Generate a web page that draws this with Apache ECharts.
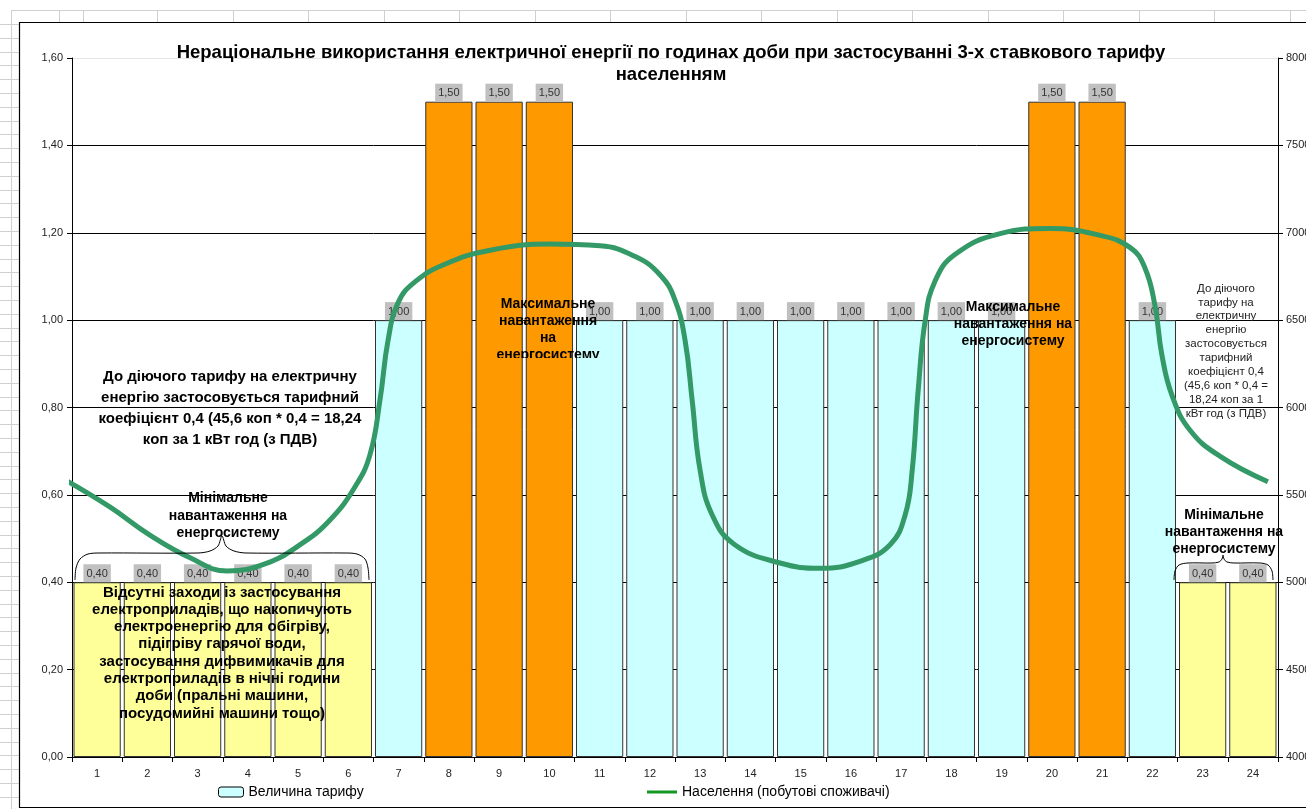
<!DOCTYPE html>
<html>
<head>
<meta charset="utf-8">
<script src="https://cdn.jsdelivr.net/npm/echarts@6/dist/echarts.min.js"></script>
<style>
  html, body { margin: 0; padding: 0; background: #fff; }
  #chart { width: 1306px; height: 809px; }
</style>
</head>
<body>
<div id="chart"></div>
<script>
// Hours of the day (category axis)
const hours = ['1','2','3','4','5','6','7','8','9','10','11','12','13','14','15','16','17','18','19','20','21','22','23','24'];

// Tariff coefficient for each hour
const tariff = [0.4, 0.4, 0.4, 0.4, 0.4, 0.4, 1.0, 1.5, 1.5, 1.5, 1.0, 1.0,
                1.0, 1.0, 1.0, 1.0, 1.0, 1.0, 1.0, 1.5, 1.5, 1.0, 0.4, 0.4];

// Household load curve: time of day (hours) and load (right axis)
const loadHours = [-0.10, 0.76, 1.55, 2.35, 3.09, 3.84, 4.54, 5.13, 5.63, 5.93, 6.13, 6.29,
                   6.49, 6.83, 7.42, 8.32, 9.51, 10.51, 11.20, 11.70, 12.00, 12.20, 12.34, 12.50,
                   12.74, 13.19, 14.09, 14.89, 15.68, 16.28, 16.58, 16.72, 16.84, 16.98, 17.17, 17.57,
                   18.47, 19.46, 20.46, 21.06, 21.35, 21.55, 21.69, 21.89, 22.25, 22.85, 23.80];
const loadValues = [5580, 5430, 5270, 5140, 5065, 5105, 5215, 5355, 5545, 5730, 6045, 6385,
                    6600, 6720, 6820, 6900, 6935, 6925, 6865, 6760, 6615, 6385, 6045, 5640,
                    5385, 5215, 5110, 5080, 5120, 5215, 5385, 5640, 6100, 6500, 6720, 6875,
                    6995, 7025, 6985, 6915, 6800, 6585, 6300, 6070, 5870, 5720, 5575];

// Axis ranges
const leftAxis = { min: 0, max: 1.6, step: 0.2 };
const rightAxis = { min: 4000, max: 8000, step: 500 };

const titleText = 'Нераціональне використання електричної енергії по годинах доби при застосуванні 3-х ставкового тарифу\nнаселенням';
const barName = 'Величина тарифу';
const lineName = 'Населення (побутові споживачі)';

const FONT = '"Liberation Sans", Arial, sans-serif';
const zoneColor = v => v >= 1.5 ? '#FF9900' : (v >= 1.0 ? '#CCFFFF' : '#FFFF99');
const comma = v => v.toFixed(2).replace('.', ',');

// Spreadsheet cells visible around the chart object
const sheetLines = [];
const cellStroke = { stroke: '#d0d0d0', lineWidth: 1 };
sheetLines.push({ type: 'line', shape: { x1: 11, y1: 10.5, x2: 1306, y2: 10.5 }, style: cellStroke, silent: true });
sheetLines.push({ type: 'line', shape: { x1: 11.5, y1: 10, x2: 11.5, y2: 809 }, style: cellStroke, silent: true });
for (let y = 24; y < 809; y += 13.8) {
  sheetLines.push({ type: 'line', shape: { x1: 0, y1: Math.round(y) + 0.5, x2: 19, y2: Math.round(y) + 0.5 }, style: cellStroke, silent: true });
}
[59.5, 83.5].concat(Array.from({ length: 16 }, (_, k) => Math.round(157 + 75.5 * k) + 0.5)).forEach(x => {
  sheetLines.push({ type: 'line', shape: { x1: x, y1: 10, x2: x, y2: 22 }, style: cellStroke, silent: true });
});

const boldText = (text, x, y, size, lh) => ({
  type: 'text', x, y, z: 100, silent: true,
  style: { text, font: 'bold ' + size + 'px ' + FONT, fill: '#000', align: 'center', verticalAlign: 'middle', lineHeight: lh }
});

const annotations = [
  boldText('До діючого тарифу на електричну\nенергію застосовується тарифний\nкоефіцієнт 0,4 (45,6 коп * 0,4 = 18,24\nкоп за 1 кВт год (з ПДВ)', 230, 408, 15, 21),
  boldText('Мінімальне\nнавантаження на\nенергосистему', 228, 516, 14, 17.5),
  boldText('Відсутні заходи із застосування\nелектроприладів, що накопичують\nелектроенергію для обігріву,\nпідігріву гарячої води,\nзастосування дифвимикачів для\nелектроприладів в нічні години\nдоби (пральні машини,\nпосудомийні машини тощо)', 222, 653, 15, 17.3),
  boldText('Максимальне\nнавантаження на\nенергосистему', 1013, 324, 14, 17),
  boldText('Мінімальне\nнавантаження на\nенергосистему', 1224, 532, 14, 17),
  {
    type: 'text', x: 1226, y: 351, z: 100, silent: true,
    style: {
      text: 'До діючого\nтарифу на\nелектричну\nенергію\nзастосовується\nтарифний\nкоефіцієнт 0,4\n(45,6 коп * 0,4 =\n18,24 коп за 1\nкВт год (з ПДВ)',
      font: '11.5px ' + FONT, fill: '#222', align: 'center', verticalAlign: 'middle', lineHeight: 13.9
    }
  },
  // braces over the night-rate hours
  {
    type: 'polyline', z: 100, silent: true,
    shape: { points: [[75,580],[76,568],[80,559],[88,554],[100,553],[198,553],[210,551],[218,546],[222,536],[226,546],[234,551],[246,553],[345,553],[357,554],[365,559],[368,568],[369,580]], smooth: 0.3 },
    style: { stroke: '#000', lineWidth: 1, fill: null }
  },
  {
    type: 'polyline', z: 100, silent: true,
    shape: { points: [[1174,580],[1175,571],[1179,565],[1188,563],[1212,563],[1219,562],[1222,559],[1223,555],[1224,559],[1227,562],[1234,563],[1260,563],[1268,565],[1272,571],[1273,580]], smooth: 0.3 },
    style: { stroke: '#000', lineWidth: 1, fill: null }
  }
];

const chart = echarts.init(document.getElementById('chart'));
chart.setOption({
  backgroundColor: '#fff',
  animation: false,
  title: {
    text: titleText, left: 666, top: 37, textAlign: 'center',
    textStyle: { fontFamily: FONT, fontWeight: 'bold', fontSize: 18.5, color: '#000', lineHeight: 22 }
  },
  legend: [
    {
      left: 218, top: 785, padding: 0, itemWidth: 25, itemHeight: 10, itemGap: 6,
      data: [{ name: barName, itemStyle: { color: '#CCFFFF', borderColor: '#000', borderWidth: 1 } }],
      textStyle: { fontFamily: FONT, fontSize: 14, color: '#000' }
    },
    {
      left: 647, top: 785, padding: 0, itemWidth: 30, itemHeight: 3, itemGap: 5,
      data: [{ name: lineName, icon: 'rect', itemStyle: { color: '#119922' } }],
      textStyle: { fontFamily: FONT, fontSize: 14, color: '#000' }
    }
  ],
  grid: { left: 72, right: 28, top: 58, bottom: 52, containLabel: false, outerBoundsMode: 'none' },
  xAxis: [
    {
      type: 'category', data: hours, boundaryGap: true,
      axisLine: { lineStyle: { color: '#000', width: 1 } },
      axisTick: { show: true, length: 5, lineStyle: { color: '#000' } },
      axisLabel: { interval: 0, margin: 11, color: '#222', fontSize: 11, fontFamily: FONT },
      splitLine: { show: false }
    },
    { type: 'value', min: 0, max: 24, show: false }
  ],
  yAxis: [
    {
      type: 'value', position: 'left', min: leftAxis.min, max: leftAxis.max, interval: leftAxis.step,
      axisLine: { show: true, lineStyle: { color: '#000', width: 1 } },
      axisTick: { show: true, length: 5, lineStyle: { color: '#000' } },
      axisLabel: { color: '#222', fontSize: 11, fontFamily: FONT, margin: 9, formatter: v => comma(v) },
      splitLine: { show: true, lineStyle: { color: ['#000','#000','#000','#000','#000','#000','#000','#000','#e6e6e6'], width: 1 } }
    },
    {
      type: 'value', position: 'right', min: rightAxis.min, max: rightAxis.max, interval: rightAxis.step,
      axisLine: { show: true, lineStyle: { color: '#000', width: 1 } },
      axisTick: { show: true, length: 5, lineStyle: { color: '#000' } },
      axisLabel: { color: '#222', fontSize: 11, fontFamily: FONT, margin: 8, formatter: v => String(v) },
      splitLine: { show: false }
    }
  ],
  graphic: [
    ...sheetLines,
    { type: 'rect', shape: { x: 19.5, y: 22.5, width: 1300, height: 785 }, style: { stroke: '#000', lineWidth: 1.2, fill: null }, silent: true, z: 1 },
    ...annotations
  ],
  series: [
    {
      name: barName, type: 'bar', xAxisIndex: 0, yAxisIndex: 0, z: 2,
      barCategoryGap: '6%',
      itemStyle: { color: '#CCFFFF', borderColor: '#333', borderWidth: 1 },
      data: tariff.map(v => ({ value: v, itemStyle: { color: zoneColor(v) } })),
      label: {
        show: true, position: 'top', distance: 0,
        formatter: p => comma(p.value),
        backgroundColor: '#C0C0C0', padding: [4, 3, 3, 3],
        color: '#333', fontSize: 11, fontFamily: FONT
      }
    },
    {
      name: lineName, type: 'line', xAxisIndex: 1, yAxisIndex: 1, z: 5,
      clip: false, symbol: 'none', smooth: 0.45,
      lineStyle: { color: '#339966', width: 5 },
      itemStyle: { color: '#339966' },
      data: loadHours.map((h, i) => [h, loadValues[i]])
    },
    {
      // text box over the morning peak, its last line cut by the box edge
      type: 'custom', coordinateSystem: 'none', z: 20, silent: true,
      data: [[0]],
      renderItem: () => ({
        type: 'group',
        clipPath: { type: 'rect', shape: { x: 440, y: 285, width: 220, height: 73 } },
        children: [{
          type: 'text', x: 548, y: 296,
          style: {
            text: 'Максимальне\nнавантаження\nна\nенергосистему',
            font: 'bold 14px ' + FONT, fill: '#000', align: 'center', verticalAlign: 'top', lineHeight: 17
          }
        }]
      })
    }
  ]
});
</script>
</body>
</html>
